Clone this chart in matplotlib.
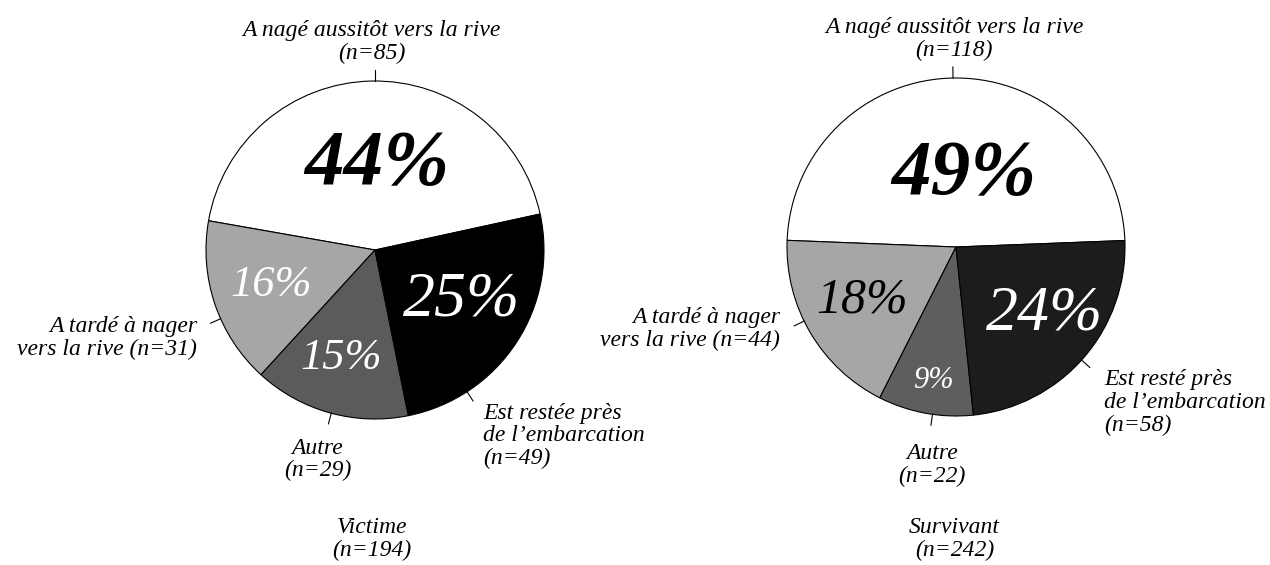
import numpy as np
import matplotlib.pyplot as plt

# data
group_names = ["Victime", "Survivant"]
group_totals = [194, 242]
victime_counts = [85, 31, 29, 49]
survivant_counts = [118, 44, 22, 58]
victime_labels = ["A nagé aussitôt vers la rive\n(n=85)",
                  "A tardé à nager\nvers la rive (n=31)",
                  "Autre\n(n=29)",
                  "Est restée près\nde l’embarcation\n(n=49)"]
survivant_labels = ["A nagé aussitôt vers la rive\n(n=118)",
                    "A tardé à nager\nvers la rive (n=44)",
                    "Autre\n(n=22)",
                    "Est resté près\nde l’embarcation\n(n=58)"]

W, H = 1270, 565
R = 169      # pie radius in pixels
L = 1.6      # axes half-range in radius units
FONT = "Liberation Serif"
LABEL_SIZE = 17

fig = plt.figure(figsize=(W / 100, H / 100), dpi=100)
fig.patch.set_facecolor("white")

layouts = [
    dict(center=(375, 250), start=12.3,
         colors=["#ffffff", "#a6a6a6", "#5b5b5b", "#000000"],
         pct_pos=[(0.01, 0.50), (-0.615, -0.21), (-0.20, -0.64), (0.51, -0.30)],
         pct_size=[57, 32, 32, 46],
         pct_color=["black", "white", "white", "white"],
         pct_weight=["bold", "normal", "normal", "normal"],
         lab_pos=[(-0.02, 1.10), (-1.053, -0.52), (-0.34, -1.24), (0.64, -1.10)],
         lab_ha=["center", "right", "center", "left"],
         lab_va=["bottom", "center", "center", "center"],
         ticks=[90, 204, 255, 303],
         title_pos=(-0.02, -1.71)),
    dict(center=(956, 247), start=2.2,
         colors=["#ffffff", "#a6a6a6", "#5e5e5e", "#1c1c1c"],
         pct_pos=[(0.047, 0.426), (-0.556, -0.314), (-0.136, -0.787), (0.527, -0.40)],
         pct_size=[57, 36, 22, 46],
         pct_color=["black", "black", "white", "white"],
         pct_weight=["bold", "normal", "normal", "normal"],
         lab_pos=[(-0.01, 1.10), (-1.04, -0.485), (-0.14, -1.29), (0.876, -0.92)],
         lab_ha=["center", "right", "center", "left"],
         lab_va=["bottom", "center", "center", "center"],
         ticks=[91, 206, 262, 318],
         title_pos=(-0.01, -1.73)),
]

all_counts = [victime_counts, survivant_counts]
all_labels = [victime_labels, survivant_labels]

for g in range(2):
    lay = layouts[g]
    cx, cy = lay["center"]
    half = R * L
    ax = fig.add_axes([(cx - half) / W, 1 - (cy + half) / H, 2 * half / W, 2 * half / H])
    counts = np.array(all_counts[g])
    ax.pie(counts, colors=lay["colors"], startangle=lay["start"], counterclock=True,
           radius=1, wedgeprops=dict(edgecolor="black", linewidth=0.8))
    ax.set_xlim(-L, L)
    ax.set_ylim(-L, L)
    ax.set_aspect("equal")
    ax.axis("off")

    pct = np.round(100 * counts / group_totals[g]).astype(int)
    for i in range(len(counts)):
        px, py = lay["pct_pos"][i]
        ax.text(px, py, "%d%%" % pct[i], ha="center", va="center",
                fontsize=lay["pct_size"][i], color=lay["pct_color"][i],
                family=FONT, style="italic", weight=lay["pct_weight"][i])

        a = np.deg2rad(lay["ticks"][i])
        ax.plot([np.cos(a), 1.065 * np.cos(a)], [np.sin(a), 1.065 * np.sin(a)],
                color="black", lw=0.8, clip_on=False)

        lx, ly = lay["lab_pos"][i]
        ax.text(lx, ly, all_labels[g][i], ha=lay["lab_ha"][i], va=lay["lab_va"][i],
                multialignment=lay["lab_ha"][i], fontsize=LABEL_SIZE, family=FONT,
                style="italic", linespacing=1.1)

    tx, ty = lay["title_pos"]
    ax.text(tx, ty, "%s\n(n=%d)" % (group_names[g], group_totals[g]), ha="center",
            va="center", fontsize=LABEL_SIZE, family=FONT, style="italic", linespacing=1.1)

fig.savefig("out.png", dpi=100)
